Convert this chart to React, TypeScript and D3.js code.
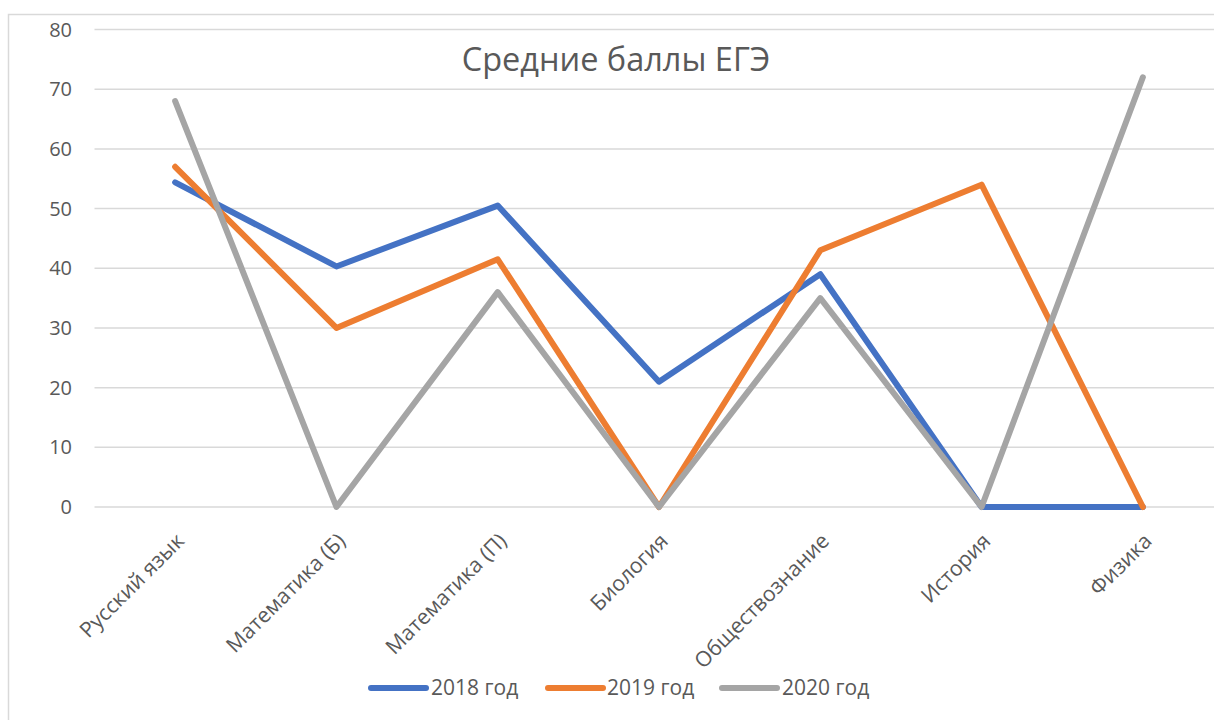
import { line, scaleBand, scaleLinear } from "d3";

const categories = ["Русский язык", "Математика (Б)", "Математика (П)", "Биология", "Обществознание", "История", "Физика"];
const y2018 = [54.4, 40.3, 50.5, 21, 39, 0, 0];
const y2019 = [57, 30, 41.5, 0, 43, 54, 0];
const y2020 = [68, 0, 36, 0, 35, 0, 72];
const yTicks = [0, 10, 20, 30, 40, 50, 60, 70, 80];

const series = [
  { name: "2018 год", values: y2018, color: "#4472C4" },
  { name: "2019 год", values: y2019, color: "#ED7D31" },
  { name: "2020 год", values: y2020, color: "#A5A5A5" },
];

const FONT = "'Open Sans', 'Noto Sans', sans-serif";
const TEXT = "#595959";

export default function App() {
  const width = 1214;
  const height = 720;
  const plotLeft = 94.5;
  const plotRight = 1223.5;
  const plotTop = 29.5;
  const plotBottom = 507;

  const x = scaleBand<string>().domain(categories).range([plotLeft, plotRight]).padding(0);
  const cx = (c: string) => (x(c) ?? 0) + x.bandwidth() / 2;
  const y = scaleLinear().domain([0, 80]).range([plotBottom, plotTop]);

  const path = line<number>()
    .x((_, i) => cx(categories[i]))
    .y((d) => y(d));

  const legendItems = [
    { x1: 371, tx: 431 },
    { x1: 548, tx: 607 },
    { x1: 722, tx: 782 },
  ];

  return (
    <div style={{ position: "absolute", left: 0, top: 0 }}>
      <svg width={width} height={height} style={{ display: "block", background: "#fff" }}>
        <rect x={8.5} y={14.5} width={1300} height={800} fill="#fff" stroke="#D9D9D9" strokeWidth={1.5} />

        {yTicks.map((t) => (
          <g key={t}>
            <line x1={plotLeft} x2={plotRight} y1={y(t)} y2={y(t)} stroke="#D9D9D9" strokeWidth={1.5} />
            <text x={72} y={y(t)} dy="0.35em" textAnchor="end" fill={TEXT} fontSize={20} fontFamily={FONT}>
              {t}
            </text>
          </g>
        ))}

        <text x={616} y={71} textAnchor="middle" fill={TEXT} fontSize={32.5} fontFamily={FONT}>
          Средние баллы ЕГЭ
        </text>

        {series.map((s) => (
          <path
            key={s.name}
            d={path(s.values) ?? ""}
            fill="none"
            stroke={s.color}
            strokeWidth={6}
            strokeLinejoin="round"
            strokeLinecap="round"
          />
        ))}

        {categories.map((c) => (
          <text
            key={c}
            transform={`translate(${cx(c) + 5}, ${plotBottom + 30}) rotate(-45)`}
            textAnchor="end"
            dy="0.35em"
            fill={TEXT}
            fontSize={21.3}
            fontFamily={FONT}
          >
            {c}
          </text>
        ))}

        {series.map((s, i) => (
          <g key={s.name}>
            <line
              x1={legendItems[i].x1}
              x2={legendItems[i].x1 + 55}
              y1={688}
              y2={688}
              stroke={s.color}
              strokeWidth={6}
              strokeLinecap="round"
            />
            <text x={legendItems[i].tx} y={688} dy="0.35em" fill={TEXT} fontSize={21} fontFamily={FONT}>
              {s.name}
            </text>
          </g>
        ))}
      </svg>
    </div>
  );
}
